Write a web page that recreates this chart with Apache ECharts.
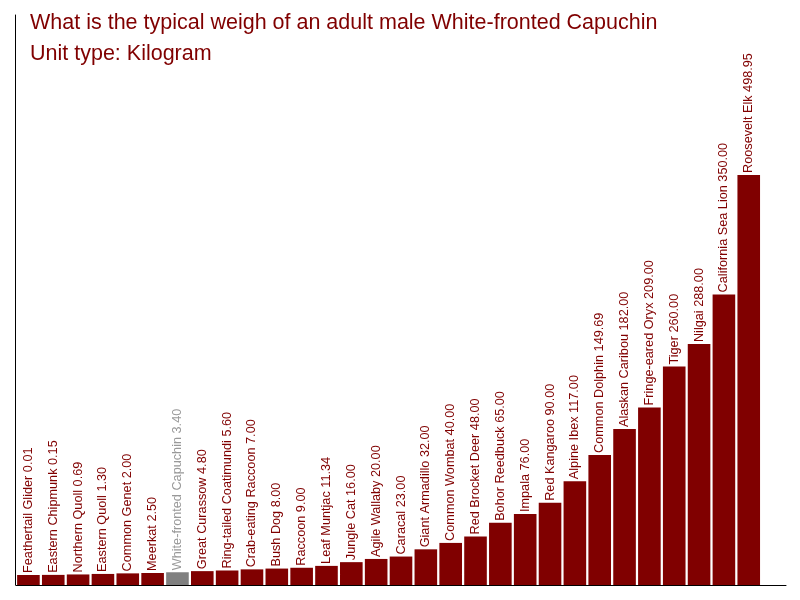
<!DOCTYPE html>
<html>
<head>
<meta charset="utf-8">
<script src="https://cdn.jsdelivr.net/npm/echarts@6/dist/echarts.min.js"></script>
<style>
    html, body { margin: 0; padding: 0; background: #fff; }
    #main { width: 800px; height: 600px; }
</style>
</head>
<body>
<div id="main"></div>
<script>
    // animals, sorted by weight (kg)
    var animals = [
        'Feathertail Glider', 'Eastern Chipmunk', 'Northern Quoll', 'Eastern Quoll',
        'Common Genet', 'Meerkat', 'White-fronted Capuchin', 'Great Curassow',
        'Ring-tailed Coatimundi', 'Crab-eating Raccoon', 'Bush Dog', 'Raccoon',
        'Leaf Muntjac', 'Jungle Cat', 'Agile Wallaby', 'Caracal', 'Giant Armadillo',
        'Common Wombat', 'Red Brocket Deer', 'Bohor Reedbuck', 'Impala', 'Red Kangaroo',
        'Alpine Ibex', 'Common Dolphin', 'Alaskan Caribou', 'Fringe-eared Oryx', 'Tiger',
        'Nilgai', 'California Sea Lion', 'Roosevelt Elk'
    ];
    var weights = [
        0.01, 0.15, 0.69, 1.30, 2.00, 2.50, 3.40, 4.80, 5.60, 7.00, 8.00, 9.00,
        11.34, 16.00, 20.00, 23.00, 32.00, 40.00, 48.00, 65.00, 76.00, 90.00,
        117.00, 149.69, 182.00, 209.00, 260.00, 288.00, 350.00, 498.95
    ];
    var highlighted = 'White-fronted Capuchin';

    var MAIN_COLOR = '#800000';
    var HIGHLIGHT_COLOR = '#808080';
    // every bar gets a small stub below its value so tiny ones stay visible
    var BASE_STUB = 12.5;

    var chart = echarts.init(document.getElementById('main'));

    var bar_color = function(i) {
        return animals[i] === highlighted ? HIGHLIGHT_COLOR : MAIN_COLOR;
    };

    var base_data = weights.map(function(w, i) {
        return { value: BASE_STUB, itemStyle: { color: bar_color(i) } };
    });
    var series_data = weights.map(function(w, i) {
        var is_hl = animals[i] === highlighted;
        return {
            value: w,
            itemStyle: { color: bar_color(i) },
            label: { color: is_hl ? '#999999' : MAIN_COLOR }
        };
    });

    var title_style = { color: MAIN_COLOR, fontSize: 21.5, fontWeight: 'normal', fontFamily: 'Liberation Sans' };

    var option = {
        animation: false,
        backgroundColor: '#ffffff',
        title: [{
            text: 'What is the typical weigh of an adult male White-fronted Capuchin',
            left: 25,
            top: 7,
            textStyle: title_style
        }, {
            text: 'Unit type: Kilogram',
            left: 25,
            top: 38,
            textStyle: title_style
        }],
        grid: { left: 16, right: 14, top: 15, bottom: 15 },
        xAxis: {
            type: 'category',
            data: animals,
            max: animals.length,  // one empty slot on the right
            axisLine: { show: true, lineStyle: { color: '#000', width: 1 } },
            axisTick: { show: false },
            axisLabel: { show: false },
            splitLine: { show: false }
        },
        yAxis: {
            type: 'value',
            min: 0,
            max: 711,
            offset: 1,
            axisLine: { show: true, lineStyle: { color: '#000', width: 1 } },
            axisTick: { show: false },
            axisLabel: { show: false },
            splitLine: { show: false }
        },
        series: [{
            type: 'bar',
            stack: 'w',
            data: base_data,
            barCategoryGap: '9%',
            silent: true
        }, {
            type: 'bar',
            stack: 'w',
            data: series_data,
            barCategoryGap: '9%',
            label: {
                show: true,
                position: 'top',
                rotate: 90,
                align: 'left',
                verticalAlign: 'middle',
                distance: 2,
                fontSize: 12.7,
                fontFamily: 'Liberation Sans',
                formatter: function(p) {
                    return p.name + ' ' + p.value.toFixed(2);
                }
            }
        }]
    };
    chart.setOption(option);
</script>
</body>
</html>
